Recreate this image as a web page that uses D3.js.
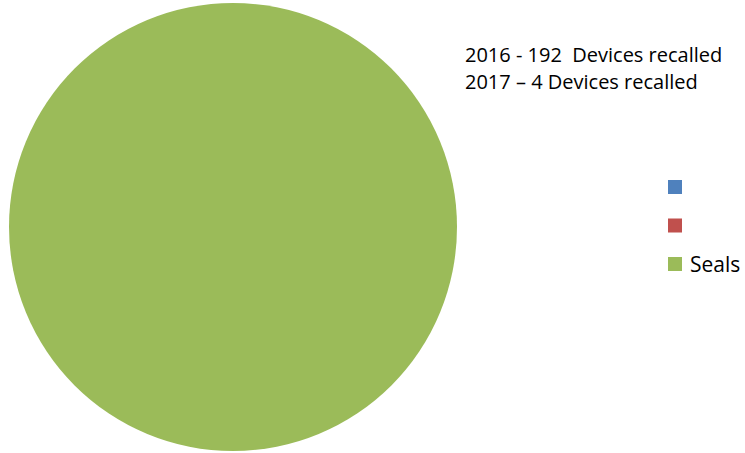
<!DOCTYPE html>
<html>
<head>
<meta charset="utf-8">
<script src="https://cdn.jsdelivr.net/npm/d3@7"></script>
<style>
  body { margin: 0; background: #fff; }
  text { font-family: "Open Sans", sans-serif; fill: #000; white-space: pre; }
</style>
</head>
<body>
<svg id="chart" width="745" height="453"></svg>
<script>
const categories = ["", "", "Seals"];
const values = [0, 0, 196];
const colors = ["#4f81bd", "#c0504d", "#9bbb59"];
const notes = ["2016 - 192  Devices recalled", "2017 \u2013 4 Devices recalled"];

const svg = d3.select("#chart");
const cx = 233, cy = 227, r = 224;

const pie = d3.pie().sort(null).value(d => d.v);
const arc = d3.arc().innerRadius(0).outerRadius(r);
const slices = pie(categories.map((c, i) => ({c: c, v: values[i], i: i})));

svg.append("g")
  .attr("transform", "translate(" + cx + "," + cy + ")")
  .selectAll("path")
  .data(slices)
  .enter()
  .append("path")
  .attr("d", arc)
  .style("fill", d => colors[d.data.i]);

// notes in the top right
svg.selectAll(".note")
  .data(notes)
  .enter()
  .append("text")
  .attr("class", "note")
  .attr("x", 465)
  .attr("y", (d, i) => 62 + i * 27)
  .attr("xml:space", "preserve")
  .style("font-size", "20px")
  .text(d => d);

// legend
const ly = d3.scalePoint().domain(d3.range(categories.length)).range([187, 264]);
const legend = svg.selectAll(".leg")
  .data(categories)
  .enter()
  .append("g")
  .attr("transform", (d, i) => "translate(668," + ly(i) + ")");
legend.append("rect")
  .attr("x", 0)
  .attr("y", -7)
  .attr("width", 14)
  .attr("height", 14)
  .style("fill", (d, i) => colors[i]);
legend.append("text")
  .attr("x", 22)
  .attr("y", 8)
  .style("font-size", "21px")
  .text(d => d);
</script>
</body>
</html>
